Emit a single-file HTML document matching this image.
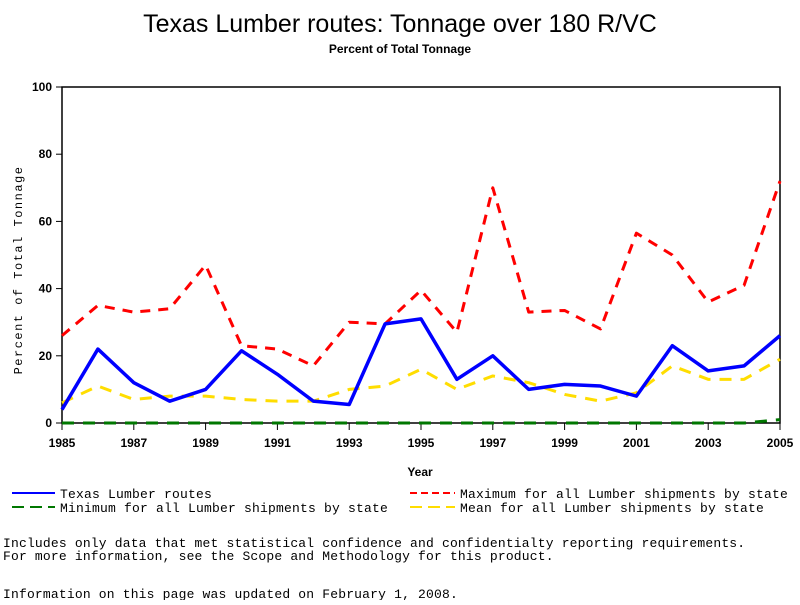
<!DOCTYPE html>
<html><head><meta charset="utf-8"><style>
body{margin:0;background:#fff;width:800px;height:600px;overflow:hidden;font-family:"Liberation Mono",monospace}
</style></head><body>
<svg id="chart" width="800" height="600" xmlns="http://www.w3.org/2000/svg">
<text x="400" y="32" text-anchor="middle" font-family="Liberation Sans,sans-serif" font-size="25">Texas Lumber routes: Tonnage over 180 R/VC</text>
<text x="400" y="53" text-anchor="middle" font-family="Liberation Sans,sans-serif" font-size="12" font-weight="bold">Percent of Total Tonnage</text>
<rect x="62" y="87" width="718" height="336" fill="none" stroke="#000" stroke-width="1.5"/>
<g id="yticks"></g><g id="xticks"></g><g id="series"></g>
<text x="420" y="476" text-anchor="middle" font-family="Liberation Sans,sans-serif" font-size="12" font-weight="bold">Year</text>
<text transform="translate(22,270) rotate(-90)" text-anchor="middle" font-size="12" letter-spacing="1.5">Percent of Total Tonnage</text>
<g font-size="13" letter-spacing="0.2">
<line x1="12" y1="493" x2="55" y2="493" stroke="#00f" stroke-width="2"/>
<text x="60" y="498">Texas Lumber routes</text>
<line x1="410" y1="493" x2="455" y2="493" stroke="#f00" stroke-width="2" stroke-dasharray="7,4"/>
<text x="460" y="498">Maximum for all Lumber shipments by state</text>
<line x1="12" y1="507" x2="55" y2="507" stroke="#070" stroke-width="2" stroke-dasharray="12,6"/>
<text x="60" y="512">Minimum for all Lumber shipments by state</text>
<line x1="410" y1="507" x2="455" y2="507" stroke="#fd0" stroke-width="2" stroke-dasharray="12,6"/>
<text x="460" y="512">Mean for all Lumber shipments by state</text>
</g>
<g font-size="13" letter-spacing="0.18">
<text x="3" y="547">Includes only data that met statistical confidence and confidentialty reporting requirements.</text>
<text x="3" y="560">For more information, see the Scope and Methodology for this product.</text>
<text x="3" y="598">Information on this page was updated on February 1, 2008.</text>
</g>
</svg>
<script>
const years=[1985,1986,1987,1988,1989,1990,1991,1992,1993,1994,1995,1996,1997,1998,1999,2000,2001,2002,2003,2004,2005];
const texas=[4,22,12,6.5,10,21.5,14.5,6.5,5.5,29.5,31,13,20,10,11.5,11,8,23,15.5,17,26];
const maxv=[26,35,33,34,47,23,22,17,30,29.5,39.5,27,70,33,33.5,28,56.5,50,36,41,72];
const meanv=[6,11,7,8,8,7,6.5,6.5,10,11,16,10,14,12,8.5,6.5,9,17,13,13,19];
const minv=[0,0,0,0,0,0,0,0,0,0,0,0,0,0,0,0,0,0,0,0,1];
const yTicks=[0,20,40,60,80,100];
const xTicks=[1985,1987,1989,1991,1993,1995,1997,1999,2001,2003,2005];
const NS="http://www.w3.org/2000/svg";
const X=v=>62+(v-1985)*(718/20);
const Y=v=>423-v*3.36;
function mk(t,a,p){const e=document.createElementNS(NS,t);for(const k in a)e.setAttribute(k,a[k]);p.appendChild(e);return e;}
const yg=document.getElementById('yticks');
yTicks.forEach(v=>{
 const l=mk('line',{x1:56,x2:62,y1:Y(v),y2:Y(v),stroke:'#000'},yg);
 
 
 const t=mk('text',{x:52,y:Y(v)+4,'text-anchor':'end','font-size':12,'font-weight':'bold','font-family':'Liberation Sans,sans-serif'},yg);
 t.textContent=v;
 
 
});
const xg=document.getElementById('xticks');
xTicks.forEach(v=>{
 const l=mk('line',{x1:X(v),x2:X(v),y1:423,y2:430,stroke:'#000'},xg);
 
 
 const t=mk('text',{x:X(v),y:447,'text-anchor':'middle','font-size':12,'font-weight':'bold','font-family':'Liberation Sans,sans-serif'},xg);
 t.textContent=v;
 
 
});
const sg=document.getElementById('series');
function line(vals,color,w,dash,name){
 const p=mk('polyline',{points:vals.map((v,i)=>X(years[i])+','+Y(v)).join(' '),fill:'none',stroke:color,'stroke-width':w,'stroke-dasharray':dash,'stroke-linejoin':'round'},sg);
 
 
}
line(minv,'#070',3,'12,9','series-minimum');
line(meanv,'#fd0',3,'12,9','series-mean');
line(maxv,'#f00',3,'10,8','series-maximum');
line(texas,'#00f',3.5,'none','series-texas');
</script>
</body></html>
